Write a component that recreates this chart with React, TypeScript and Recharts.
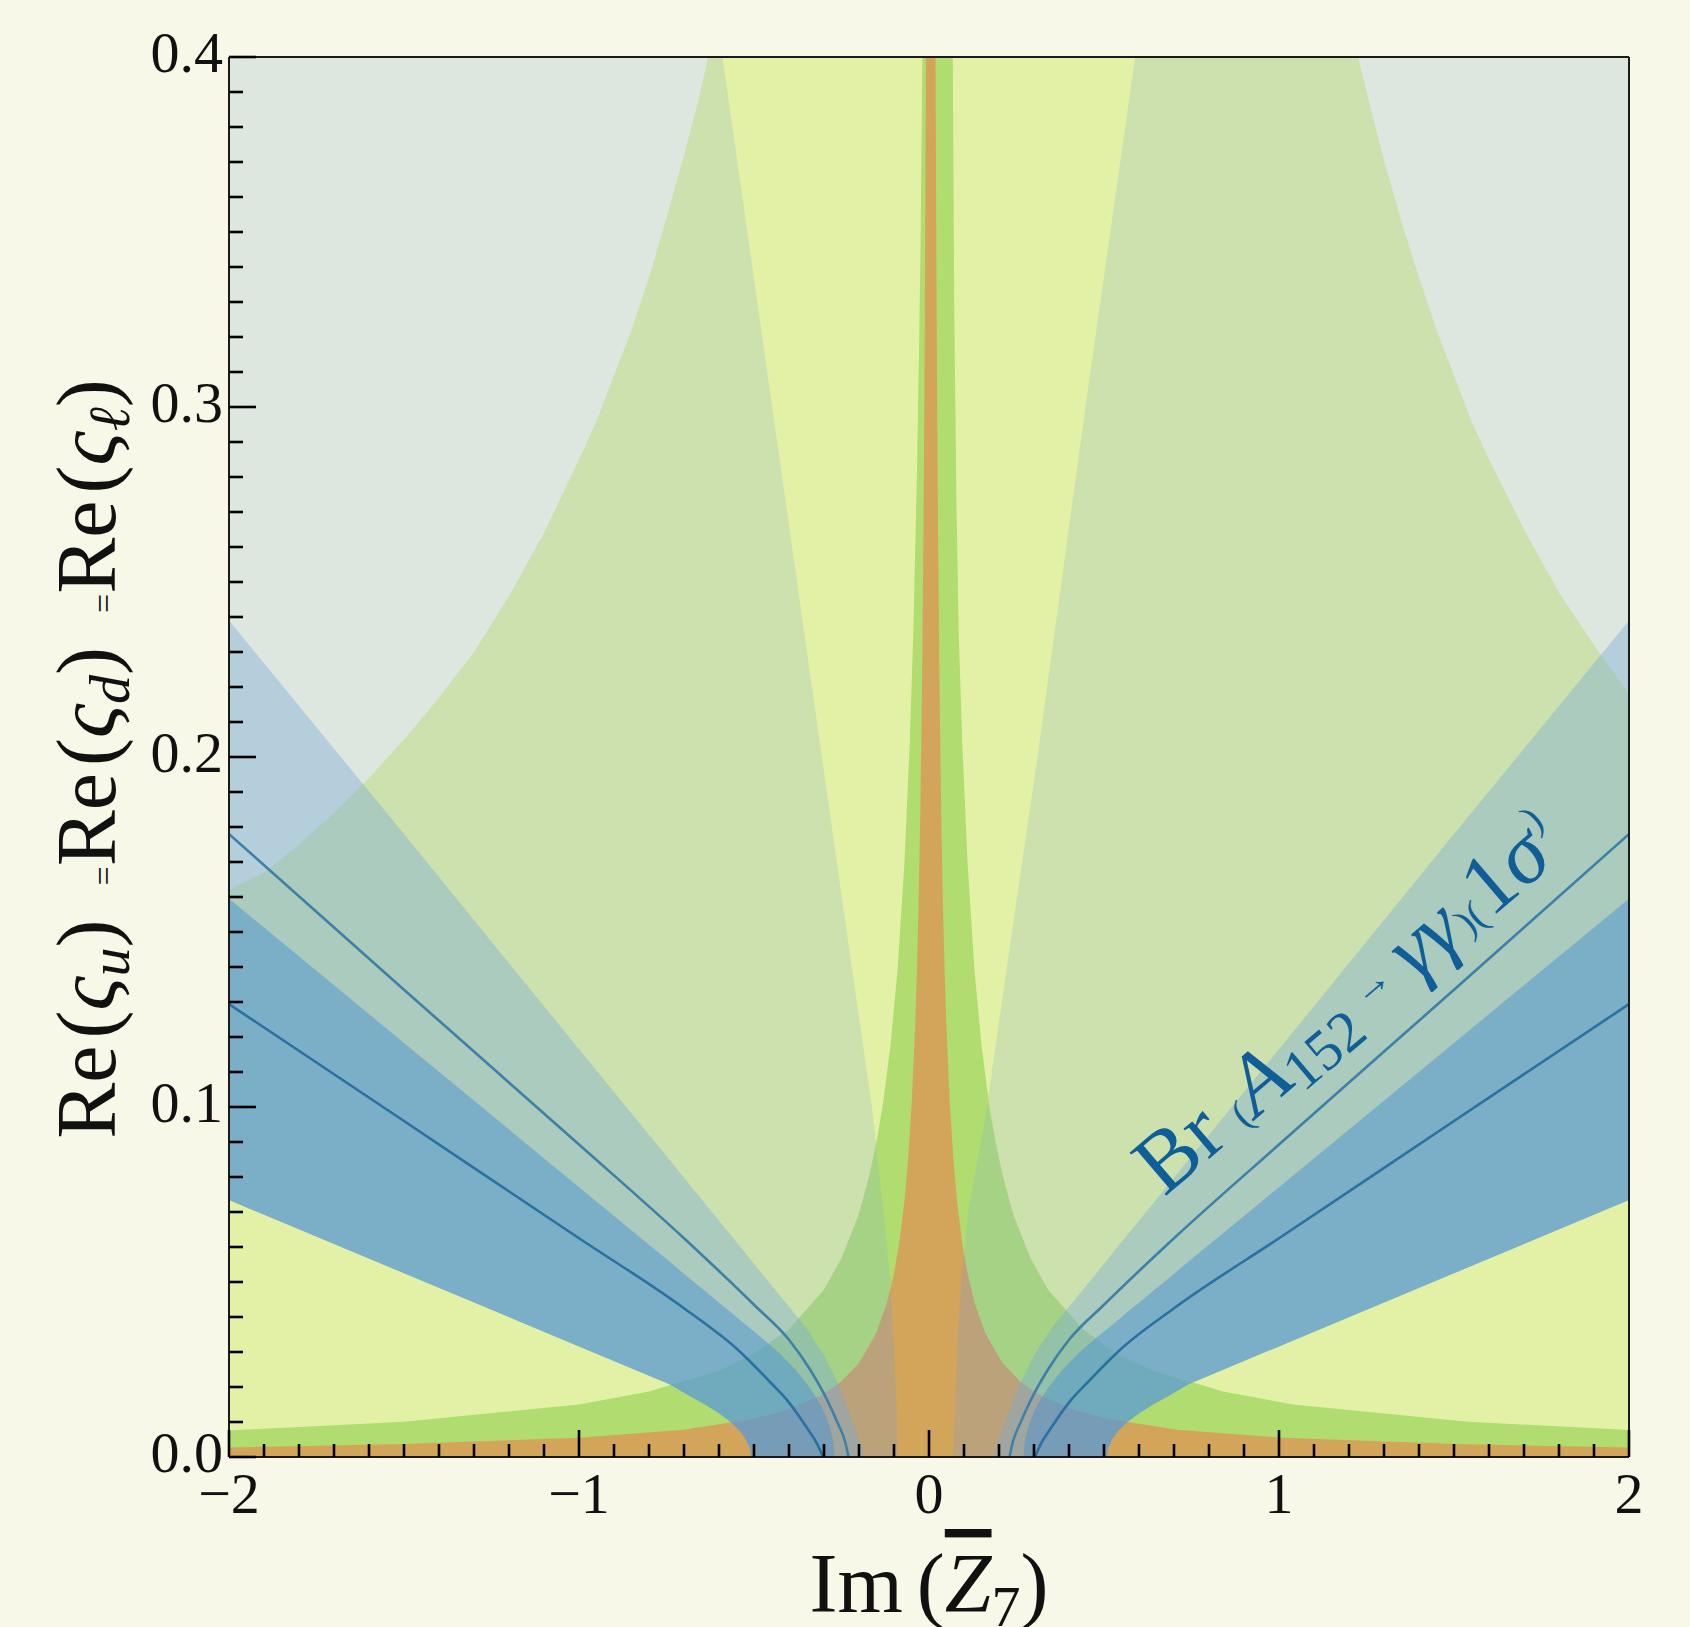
import React from 'react';
import { ComposedChart, Area, Line, XAxis, YAxis, ReferenceDot } from 'recharts';

// ---------- axis ticks ----------
const xTicks = [-2, -1.9, -1.8, -1.7, -1.6, -1.5, -1.4, -1.3, -1.2, -1.1, -1, -0.9, -0.8, -0.7, -0.6, -0.5, -0.4, -0.3, -0.2, -0.1, 0,
  0.1, 0.2, 0.3, 0.4, 0.5, 0.6, 0.7, 0.8, 0.9, 1, 1.1, 1.2, 1.3, 1.4, 1.5, 1.6, 1.7, 1.8, 1.9, 2];
const xMajor = [-2, -1, 0, 1, 2];
const xMajorLabels = ['\u22122', '\u22121', '0', '1', '2'];
const yTicks = [0, 0.01, 0.02, 0.03, 0.04, 0.05, 0.06, 0.07, 0.08, 0.09, 0.1, 0.11, 0.12, 0.13, 0.14, 0.15, 0.16, 0.17, 0.18, 0.19, 0.2,
  0.21, 0.22, 0.23, 0.24, 0.25, 0.26, 0.27, 0.28, 0.29, 0.3, 0.31, 0.32, 0.33, 0.34, 0.35, 0.36, 0.37, 0.38, 0.39, 0.4];
const yMajor = [0, 0.1, 0.2, 0.3, 0.4];
const yMajorLabels = ['0.0', '0.1', '0.2', '0.3', '0.4'];

// ---------- regions: [x, low, high] ----------
const plotBg = [[-2, 0, 0.4], [2, 0, 0.4]];

const outerRegion = [
  [-2, 0, 0.162], [-1.9, 0, 0.167], [-1.8, 0, 0.175], [-1.7, 0, 0.184], [-1.6, 0, 0.194], [-1.5, 0, 0.205],
  [-1.4, 0, 0.217], [-1.3, 0, 0.23], [-1.2, 0, 0.246], [-1.1, 0, 0.264], [-1.0, 0, 0.285], [-0.95, 0, 0.296],
  [-0.9, 0, 0.309], [-0.85, 0, 0.322], [-0.8, 0, 0.337], [-0.75, 0, 0.354], [-0.7, 0, 0.372], [-0.66, 0, 0.387],
  [-0.631, 0, 0.4], [1.226, 0, 0.4], [1.26, 0, 0.386], [1.3, 0, 0.3705], [1.35, 0, 0.353], [1.4, 0, 0.337],
  [1.45, 0, 0.322], [1.5, 0, 0.309], [1.55, 0, 0.296], [1.6, 0, 0.285], [1.7, 0, 0.265], [1.8, 0, 0.247],
  [1.9, 0, 0.232], [2, 0, 0.218],
];

const yellowCornerLeft = [
  [-2, 0, 0.0734], [-1.5, 0, 0.0525], [-1.0, 0, 0.0316], [-0.74, 0, 0.0207], [-0.685, 0, 0.0175], [-0.64, 0, 0.015],
  [-0.6, 0, 0.0125], [-0.567, 0, 0.01], [-0.541, 0, 0.0075], [-0.523, 0, 0.005], [-0.512, 0, 0.0025], [-0.508, 0, 0],
];
const yellowCornerRight = [
  [0.508, 0, 0], [0.512, 0, 0.0025], [0.523, 0, 0.005], [0.541, 0, 0.0075], [0.567, 0, 0.01], [0.6, 0, 0.0125],
  [0.64, 0, 0.015], [0.685, 0, 0.0175], [0.74, 0, 0.0207], [1.0, 0, 0.0316], [1.5, 0, 0.0525], [2, 0, 0.0734],
];
const yellowWedge = [
  [-0.59, 0.4, 0.4], [-0.448, 0.3, 0.4], [-0.306, 0.2, 0.4], [-0.235, 0.15, 0.4], [-0.163, 0.1, 0.4],
  [-0.13, 0.07, 0.4], [-0.11, 0.05, 0.4], [-0.099, 0.03, 0.4], [-0.093, 0.015, 0.4], [-0.089, 0, 0.4],
  [0.069, 0, 0.4], [0.076, 0.02, 0.4], [0.082, 0.035, 0.4], [0.092, 0.05, 0.4], [0.112, 0.07, 0.4],
  [0.165, 0.1, 0.4], [0.237, 0.15, 0.4], [0.31, 0.2, 0.4], [0.447, 0.3, 0.4], [0.589, 0.4, 0.4],
];

const greenRegion = [
  [-2, 0, 0.0076], [-1.5, 0, 0.0101], [-1.0, 0, 0.015], [-0.8, 0, 0.0187], [-0.6, 0, 0.0247], [-0.5, 0, 0.0294],
  [-0.4, 0, 0.0364], [-0.3, 0, 0.0478], [-0.25, 0, 0.0567], [-0.2, 0, 0.0695], [-0.17, 0, 0.0805], [-0.15, 0, 0.09],
  [-0.13, 0, 0.102], [-0.11, 0, 0.1177], [-0.09, 0, 0.139], [-0.07, 0, 0.17], [-0.055, 0, 0.204], [-0.045, 0, 0.235],
  [-0.035, 0, 0.278], [-0.028, 0, 0.319], [-0.024, 0, 0.348], [-0.019, 0, 0.4],
  [0.068, 0, 0.4], [0.072, 0, 0.33], [0.078, 0, 0.275], [0.085, 0, 0.235], [0.095, 0, 0.204], [0.11, 0, 0.17],
  [0.13, 0, 0.139], [0.15, 0, 0.1177], [0.17, 0, 0.102], [0.19, 0, 0.09], [0.21, 0, 0.0805], [0.24, 0, 0.0695],
  [0.29, 0, 0.0567], [0.34, 0, 0.0478], [0.44, 0, 0.0364], [0.54, 0, 0.0294], [0.64, 0, 0.0247], [0.84, 0, 0.0187],
  [1.04, 0, 0.015], [1.54, 0, 0.0101], [2, 0, 0.0077],
];
const greenOverLeft = [
  [-0.74, 0.0207, 0.0207], [-0.685, 0.0175, 0.0219], [-0.64, 0.015, 0.0232], [-0.6, 0.0125, 0.0247],
  [-0.567, 0.01, 0.0261], [-0.541, 0.0075, 0.0273], [-0.523, 0.005, 0.0282], [-0.508, 0, 0.029],
  [-0.4, 0, 0.0364], [-0.3, 0, 0.0478], [-0.25, 0, 0.0567], [-0.2, 0, 0.0695], [-0.17, 0, 0.0805],
  [-0.152, 0, 0.089], [-0.13, 0, 0.07], [-0.11, 0, 0.05], [-0.099, 0, 0.03], [-0.093, 0, 0.015], [-0.089, 0, 0],
];
const greenOverRight = [
  [0.069, 0, 0], [0.076, 0, 0.02], [0.082, 0, 0.035], [0.092, 0, 0.05], [0.112, 0, 0.07], [0.14, 0, 0.0858],
  [0.168, 0, 0.101], [0.19, 0, 0.09], [0.21, 0, 0.0805], [0.24, 0, 0.0695], [0.29, 0, 0.0567], [0.34, 0, 0.0478],
  [0.44, 0, 0.0364], [0.508, 0, 0.0305], [0.523, 0.005, 0.0296], [0.567, 0.01, 0.0275], [0.64, 0.015, 0.0247],
  [0.685, 0.0175, 0.0229], [0.745, 0.0209, 0.0209],
];

const orangeRegion = [
  [-2, 0, 0.0027], [-1.5, 0, 0.0037], [-1.0, 0, 0.0055], [-0.7, 0, 0.0078], [-0.5, 0, 0.0109], [-0.4, 0, 0.0136],
  [-0.3, 0, 0.018], [-0.25, 0, 0.0216], [-0.2, 0, 0.0268], [-0.17, 0, 0.0314], [-0.15, 0, 0.0355], [-0.12, 0, 0.044],
  [-0.1, 0, 0.0524], [-0.085, 0, 0.0611], [-0.07, 0, 0.0733], [-0.06, 0, 0.0846], [-0.049, 0, 0.102], [-0.04, 0, 0.122],
  [-0.035, 0, 0.1375], [-0.03, 0, 0.157], [-0.025, 0, 0.183], [-0.02, 0, 0.22], [-0.016, 0, 0.262], [-0.013, 0, 0.305],
  [-0.011, 0, 0.344], [-0.0086, 0, 0.4],
  [0.0186, 0, 0.4], [0.021, 0, 0.344], [0.023, 0, 0.305], [0.026, 0, 0.262], [0.03, 0, 0.22], [0.035, 0, 0.183],
  [0.04, 0, 0.157], [0.045, 0, 0.1375], [0.05, 0, 0.122], [0.059, 0, 0.102], [0.07, 0, 0.0846], [0.08, 0, 0.0733],
  [0.095, 0, 0.0611], [0.11, 0, 0.0524], [0.13, 0, 0.044], [0.16, 0, 0.0355], [0.18, 0, 0.0314], [0.21, 0, 0.0268],
  [0.26, 0, 0.0216], [0.31, 0, 0.018], [0.41, 0, 0.0136], [0.51, 0, 0.0109], [0.71, 0, 0.0078], [1.01, 0, 0.0055],
  [1.51, 0, 0.0037], [2, 0, 0.0027],
];
const orangeOverLeft = [
  [-0.56, 0.0092, 0.0097], [-0.541, 0.0075, 0.01], [-0.523, 0.005, 0.0104], [-0.512, 0.0025, 0.0106], [-0.508, 0, 0.0107],
  [-0.4, 0, 0.0136], [-0.3, 0, 0.018], [-0.25, 0, 0.0216], [-0.2, 0, 0.0268], [-0.15, 0, 0.0355], [-0.12, 0, 0.044],
  [-0.11, 0, 0.0478], [-0.099, 0, 0.03], [-0.093, 0, 0.015], [-0.089, 0, 0],
];
const orangeOverRight = [
  [0.069, 0, 0], [0.076, 0, 0.02], [0.082, 0, 0.035], [0.092, 0, 0.05], [0.1, 0, 0.0578], [0.11, 0, 0.0524],
  [0.13, 0, 0.044], [0.16, 0, 0.0355], [0.21, 0, 0.0268], [0.26, 0, 0.0216], [0.31, 0, 0.018], [0.41, 0, 0.0136],
  [0.508, 0, 0.0109], [0.512, 0.0025, 0.0108], [0.523, 0.005, 0.0106], [0.541, 0.0075, 0.0102], [0.56, 0.0092, 0.0098],
];

// Br(A152 -> gamma gamma) bands
const brWideLeft = [
  [-2, 0.0734, 0.239], [-1.5, 0.0525, 0.178], [-1.0, 0.0316, 0.1165], [-0.74, 0.0207, 0.0847], [-0.685, 0.0175, 0.0779],
  [-0.64, 0.015, 0.0724], [-0.6, 0.0125, 0.0675], [-0.567, 0.01, 0.0635], [-0.541, 0.0075, 0.0603], [-0.523, 0.005, 0.0581],
  [-0.512, 0.0025, 0.0567], [-0.508, 0, 0.0562], [-0.45, 0, 0.049], [-0.4, 0, 0.0429], [-0.35, 0, 0.0368], [-0.3, 0, 0.029],
  [-0.26, 0, 0.021], [-0.23, 0, 0.0135], [-0.205, 0, 0.0065], [-0.19, 0, 0.0025], [-0.183, 0, 0],
];
const brWideRight = [
  [0.183, 0, 0], [0.19, 0, 0.0025], [0.205, 0, 0.0065], [0.23, 0, 0.0135], [0.26, 0, 0.021], [0.3, 0, 0.029],
  [0.35, 0, 0.0368], [0.4, 0, 0.0429], [0.45, 0, 0.049], [0.508, 0, 0.0562], [0.512, 0.0025, 0.0567], [0.523, 0.005, 0.0581],
  [0.541, 0.0075, 0.0603], [0.567, 0.01, 0.0635], [0.6, 0.0125, 0.0675], [0.64, 0.015, 0.0724], [0.685, 0.0175, 0.0779],
  [0.74, 0.0207, 0.0847], [1.0, 0.0316, 0.1165], [1.5, 0.0525, 0.178], [2, 0.0734, 0.239],
];
const brCoreLeft = [
  [-2, 0.0734, 0.1595], [-1.5, 0.0525, 0.1183], [-1.0, 0.0316, 0.0771], [-0.74, 0.0207, 0.0557], [-0.685, 0.0175, 0.0511],
  [-0.64, 0.015, 0.0474], [-0.6, 0.0125, 0.0441], [-0.567, 0.01, 0.0414], [-0.541, 0.0075, 0.0392], [-0.523, 0.005, 0.0377],
  [-0.512, 0.0025, 0.0368], [-0.508, 0, 0.0365], [-0.4745, 0, 0.0338], [-0.431, 0, 0.03], [-0.382, 0, 0.025],
  [-0.342, 0, 0.02], [-0.31, 0, 0.015], [-0.288, 0, 0.01], [-0.2745, 0, 0.005], [-0.27, 0, 0],
];
const brCoreRight = [
  [0.27, 0, 0], [0.2745, 0, 0.005], [0.288, 0, 0.01], [0.31, 0, 0.015], [0.342, 0, 0.02], [0.382, 0, 0.025],
  [0.431, 0, 0.03], [0.4745, 0, 0.0338], [0.508, 0, 0.0365], [0.512, 0.0025, 0.0368], [0.523, 0.005, 0.0377],
  [0.541, 0.0075, 0.0392], [0.567, 0.01, 0.0414], [0.6, 0.0125, 0.0441], [0.64, 0.015, 0.0474], [0.685, 0.0175, 0.0511],
  [0.74, 0.0207, 0.0557], [1.0, 0.0316, 0.0771], [1.5, 0.0525, 0.1183], [2, 0.0734, 0.1595],
];

// contour lines: [x, y]
const upperLineLeft = [
  [-2, 0.178], [-1.5, 0.1335], [-1.0, 0.0893], [-0.7, 0.0625], [-0.5, 0.0435], [-0.4, 0.0335], [-0.34, 0.025],
  [-0.291, 0.0163], [-0.26, 0.0095], [-0.24, 0.0045], [-0.23, 0],
];
const upperLineRight = [
  [0.23, 0], [0.24, 0.0045], [0.26, 0.0095], [0.291, 0.0163], [0.34, 0.025], [0.4, 0.0335], [0.5, 0.0435],
  [0.7, 0.0625], [1.0, 0.0893], [1.5, 0.1335], [2, 0.178],
];
const lowerLineLeft = [
  [-2, 0.1294], [-1.5, 0.096], [-1.0, 0.0625], [-0.7, 0.0425], [-0.55, 0.031], [-0.45, 0.021], [-0.406, 0.0163],
  [-0.35, 0.0085], [-0.32, 0.0038], [-0.303, 0],
];
const lowerLineRight = [
  [0.303, 0], [0.32, 0.0038], [0.35, 0.0085], [0.406, 0.0163], [0.45, 0.021], [0.55, 0.031], [0.7, 0.0425],
  [1.0, 0.0625], [1.5, 0.096], [2, 0.1294],
];

const annotationAnchor = { x: 0.672, y: 0.0742 };

const toRange = (pts: number[][]) => pts.map(([x, lo, hi]) => ({ x, v: [lo, hi] }));
const toLine = (pts: number[][]) => pts.map(([x, y]) => ({ x, y }));

const FONT = '"Liberation Serif", "DejaVu Serif", serif';
const INK = '#111111';

const XTick = (props: any) => {
  const { x, y, payload } = props;
  const idx = xMajor.findIndex((m) => Math.abs(m - payload.value) < 1e-9);
  const major = idx >= 0;
  return (
    <g>
      <line x1={x} y1={y} x2={x} y2={y - (major ? 27 : 13)} stroke="#000" strokeWidth={2.6} />
      {major && (
        <text x={x} y={y + 56} textAnchor="middle" fontSize={58} fontFamily={FONT} fill={INK}>
          {xMajorLabels[idx]}
        </text>
      )}
    </g>
  );
};

const YTick = (props: any) => {
  const { x, y, payload } = props;
  const idx = yMajor.findIndex((m) => Math.abs(m - payload.value) < 1e-9);
  const major = idx >= 0;
  return (
    <g>
      <line x1={x} y1={y} x2={x + (major ? 27 : 14)} y2={y} stroke="#000" strokeWidth={2.6} />
      {major && (
        <text x={x - 6} y={y + 15} textAnchor="end" fontSize={58} fontFamily={FONT} fill={INK}>
          {yMajorLabels[idx]}
        </text>
      )}
    </g>
  );
};

const XTitle = (props: any) => {
  const vb = props.viewBox || { x: 229, y: 1457, width: 1400, height: 30 };
  const cx = vb.x + vb.width / 2;
  const by = vb.y + 155;
  return (
    <text x={cx} y={by} textAnchor="middle" fontSize={84} fontFamily={FONT} fill={INK}>
      <tspan>Im</tspan>
      <tspan dx={14}>(</tspan>
      <tspan fontStyle="italic" textDecoration="overline">Z</tspan>
      <tspan fontSize={58} dy={14}>7</tspan>
      <tspan dy={-14}>)</tspan>
    </text>
  );
};

const YTitle = (props: any) => {
  const vb = props.viewBox || { x: 199, y: 57, width: 30, height: 1400 };
  const cx = vb.x + vb.width - 114;
  const cy = vb.y + vb.height / 2 + 2;
  const group = (sub: string, key: string) => [
    <tspan key={key + 'a'}>Re</tspan>,
    <tspan key={key + 'b'} dx={7}>(</tspan>,
    <tspan key={key + 'c'} fontStyle="italic">{'\u03C2'}</tspan>,
    <tspan key={key + 'd'} fontStyle="italic" fontSize={58} dy={14}>{sub}</tspan>,
    <tspan key={key + 'e'} dy={-14}>)</tspan>,
  ];
  return (
    <text x={cx} y={cy} transform={`rotate(-90 ${cx} ${cy})`} textAnchor="middle" fontSize={84} fontFamily={FONT} fill={INK}>
      {group('u', 'g1')}
      <tspan fontSize={34} dx={34}>=</tspan>
      <tspan dx={34}></tspan>
      {group('d', 'g2')}
      <tspan fontSize={34} dx={34}>=</tspan>
      <tspan dx={34}></tspan>
      {group('\u2113', 'g3')}
    </text>
  );
};

const Annotation = (props: any) => {
  const vb = props.viewBox || { x: 0, y: 0, width: 0, height: 0 };
  const x = vb.x + (vb.width || 0) / 2;
  const y = vb.y + (vb.height || 0) / 2;
  const c = '#0F5E98';
  return (
    <text x={x} y={y} transform={`rotate(-40.5 ${x} ${y})`} fontFamily={FONT} fill={c} fontSize={86}>
      <tspan>Br</tspan>
      <tspan fontSize={40} dx={20}>(</tspan>
      <tspan fontStyle="italic" dx={2}>A</tspan>
      <tspan fontSize={58} dy={11}>152</tspan>
      <tspan fontSize={40} dy={-26} dx={14}>{'\u2192'}</tspan>
      <tspan fontStyle="italic" dy={15} dx={16}>{'\u03B3\u03B3'}</tspan>
      <tspan fontSize={40} dx={2}>)(</tspan>
      <tspan dx={2}>1</tspan>
      <tspan fontStyle="italic">{'\u03C3'}</tspan>
      <tspan fontSize={40} dy={-36} dx={4}>)</tspan>
    </text>
  );
};

const areaCommon = {
  dataKey: 'v',
  stroke: 'none',
  isAnimationActive: false,
  dot: false,
  activeDot: false,
  type: 'linear' as const,
};

export default function App() {
  return (
    <div style={{ position: 'absolute', left: 0, top: 0, width: 1690, height: 1627, background: '#F8F8E8', overflow: 'hidden' }}>
      <ComposedChart width={1690} height={1627} margin={{ top: 56, right: 60, bottom: 140, left: 199 }}>
        <XAxis dataKey="x" type="number" domain={[-2, 2]} allowDataOverflow ticks={xTicks} interval={0}
          tickSize={0} tickMargin={0} height={30} tick={<XTick />} tickLine={false}
          axisLine={{ stroke: '#1A1A1A', strokeWidth: 2 }} label={(p: any) => <XTitle {...p} />} />
        <XAxis xAxisId="top" orientation="top" type="number" domain={[-2, 2]} height={1} tick={false} tickLine={false}
          axisLine={{ stroke: '#1A1A1A', strokeWidth: 2 }} />
        <YAxis type="number" domain={[0, 0.4]} allowDataOverflow ticks={yTicks} interval={0}
          tickSize={0} tickMargin={0} width={30} tick={<YTick />} tickLine={false}
          axisLine={{ stroke: '#1A1A1A', strokeWidth: 2 }} label={(p: any) => <YTitle {...p} />} />
        <YAxis yAxisId="right" orientation="right" type="number" domain={[0, 0.4]} width={1} tick={false} tickLine={false}
          axisLine={{ stroke: '#1A1A1A', strokeWidth: 2 }} />
        <Area {...areaCommon} data={toRange(plotBg)} fill="#DDE7E0" fillOpacity={1} />
        <Area {...areaCommon} data={toRange(outerRegion)} fill="#CCE1AE" fillOpacity={1} />
        <Area {...areaCommon} data={toRange(yellowCornerLeft)} fill="#E3F1A6" fillOpacity={1} />
        <Area {...areaCommon} data={toRange(yellowCornerRight)} fill="#E3F1A6" fillOpacity={1} />
        <Area {...areaCommon} data={toRange(yellowWedge)} fill="#E3F1A6" fillOpacity={1} />
        <Area {...areaCommon} data={toRange(greenRegion)} fill="#B0DC70" fillOpacity={1} />
        <Area {...areaCommon} data={toRange(greenOverLeft)} fill="#A6D286" fillOpacity={1} />
        <Area {...areaCommon} data={toRange(greenOverRight)} fill="#A6D286" fillOpacity={1} />
        <Area {...areaCommon} data={toRange(orangeRegion)} fill="#D3A55B" fillOpacity={1} />
        <Area {...areaCommon} data={toRange(orangeOverLeft)} fill="#BBA27B" fillOpacity={1} />
        <Area {...areaCommon} data={toRange(orangeOverRight)} fill="#BBA27B" fillOpacity={1} />
        <Area {...areaCommon} data={toRange(brWideLeft)} fill="#79ABD6" fillOpacity={0.4} />
        <Area {...areaCommon} data={toRange(brWideRight)} fill="#79ABD6" fillOpacity={0.4} />
        <Area {...areaCommon} data={toRange(brCoreLeft)} fill="#4B93D2" fillOpacity={0.5} />
        <Area {...areaCommon} data={toRange(brCoreRight)} fill="#4B93D2" fillOpacity={0.5} />
        <Line data={toLine(upperLineLeft)} dataKey="y" type="monotone" stroke="#3E80A8" strokeWidth={2.6} dot={false} activeDot={false} isAnimationActive={false} />
        <Line data={toLine(upperLineRight)} dataKey="y" type="monotone" stroke="#3E80A8" strokeWidth={2.6} dot={false} activeDot={false} isAnimationActive={false} />
        <Line data={toLine(lowerLineLeft)} dataKey="y" type="monotone" stroke="#2A71A2" strokeWidth={2.6} dot={false} activeDot={false} isAnimationActive={false} />
        <Line data={toLine(lowerLineRight)} dataKey="y" type="monotone" stroke="#2A71A2" strokeWidth={2.6} dot={false} activeDot={false} isAnimationActive={false} />
        <ReferenceDot x={annotationAnchor.x} y={annotationAnchor.y} r={1} fill="none" stroke="none" label={(p: any) => <Annotation {...p} />} />
      </ComposedChart>
    </div>
  );
}
